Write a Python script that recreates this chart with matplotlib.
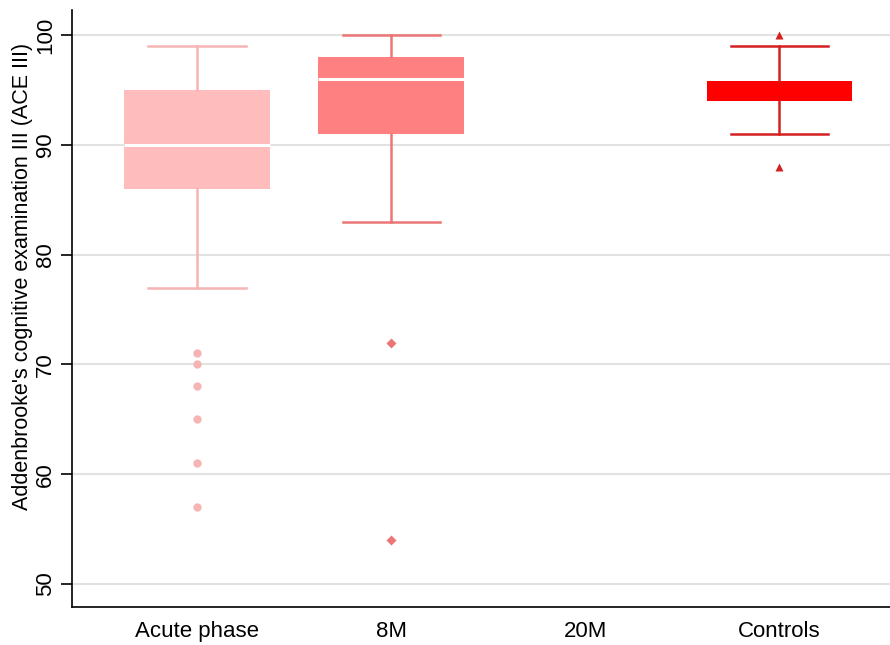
import matplotlib
matplotlib.use("Agg")
import matplotlib.pyplot as plt

plt.rcParams['font.family'] = ['Liberation Sans', 'DejaVu Sans']

# group labels and box statistics
groups = ["Acute phase", "8M", "20M", "Controls"]
whislo = [77, 83, None, 91]
q1 = [86, 91, None, 94]
med = [90, 96, None, 95]
q3 = [95, 98, None, 95.8]
whishi = [99, 100, None, 99]
outliers = [[71, 70, 68, 65, 61, 57], [72, 54], [], [100, 88]]

box_colors = ["#ffbcbc", "#ff8080", None, "#ff0000"]
line_colors = ["#f7b4b4", "#ec7676", None, "#d42020"]
median_colors = ["white", "white", None, "#ff0000"]
markers = ["o", "D", None, "^"]

fig = plt.figure(figsize=(8.9, 6.45), dpi=100)
ax = fig.add_axes([72 / 890, 38 / 645, 1 - 72 / 890, (607 - 10) / 645])

for i in range(len(groups)):
    if whislo[i] is None:
        continue
    stats = [dict(whislo=whislo[i], q1=q1[i], med=med[i], q3=q3[i],
                  whishi=whishi[i], fliers=outliers[i])]
    ax.bxp(stats, positions=[i + 1], widths=0.75, patch_artist=True,
           showfliers=True,
           boxprops=dict(facecolor=box_colors[i], edgecolor=box_colors[i], linewidth=0),
           medianprops=dict(color=median_colors[i], linewidth=2.2 if i != 3 else 0),
           whiskerprops=dict(color=line_colors[i], linewidth=1.8),
           capprops=dict(color=line_colors[i], linewidth=1.8),
           capwidths=0.5,
           flierprops=dict(marker=markers[i], markerfacecolor=line_colors[i],
                           markeredgecolor="none", markersize=6 if i != 1 else 5.5))

ax.set_xlim(0.356, 4.57)
ax.set_ylim(47.9, 102.3)
ax.set_xticks(range(1, len(groups) + 1))
ax.set_xticklabels(groups, fontsize=16)
ax.set_yticks([50, 60, 70, 80, 90, 100])
ax.tick_params(axis="y", labelsize=16, labelrotation=90, length=8, width=1.2)
ax.tick_params(axis="x", length=0, pad=10)
for lbl in ax.get_yticklabels():
    lbl.set_verticalalignment("center")
ax.yaxis.grid(True, color="#e2e2e2", linewidth=1.5)
ax.set_axisbelow(True)
for s in ["top", "right"]:
    ax.spines[s].set_visible(False)
ax.spines["left"].set_linewidth(1.2)
ax.spines["bottom"].set_linewidth(1.2)
ax.set_ylabel("Addenbrooke's cognitive examination III (ACE III)", fontsize=15.5)
ax.yaxis.set_label_coords(-0.048, 0.554)

fig.savefig("out.png", dpi=100, facecolor="white")
